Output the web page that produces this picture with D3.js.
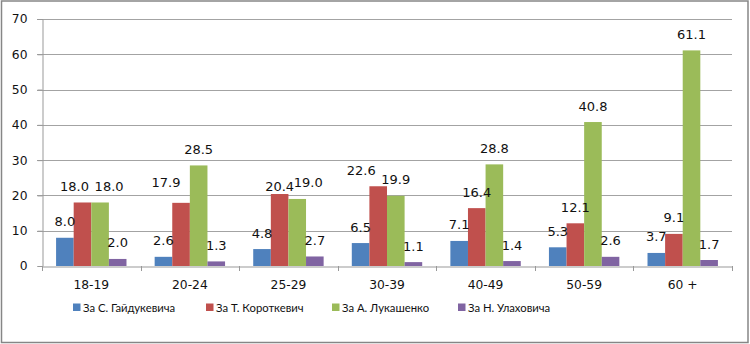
<!DOCTYPE html>
<html><head><meta charset="utf-8">
<script src="https://cdn.jsdelivr.net/npm/d3@7"></script>
<style>body{margin:0;background:#fff}svg{display:block}text{fill:#111}</style>
</head><body><svg id="c" width="750" height="344"></svg>
<script>
const categories = ["18-19","20-24","25-29","30-39","40-49","50-59","60 +"];
const seriesNames = ["За С. Гайдукевича","За Т. Короткевич","За А. Лукашенко","За Н. Улаховича"];
const gaidukevich = [8.0,2.6,4.8,6.5,7.1,5.3,3.7];
const korotkevich = [18.0,17.9,20.4,22.6,16.4,12.1,9.1];
const lukashenko = [18.0,28.5,19.0,19.9,28.8,40.8,61.1];
const ulakhovich = [2.0,1.3,2.7,1.1,1.4,2.6,1.7];
const yTicks = [0,10,20,30,40,50,60,70];

// styling / layout
const colors = ["#4F81BD","#C0504D","#9BBB59","#8064A2"];
const seriesValues = [gaidukevich,korotkevich,lukashenko,ulakhovich];
// manual label nudges seen in the reference: key "category|series" -> [dx, dy]
const labelNudge = {"0|1":[-8,0],"0|2":[9,0],"1|1":[-15,-4],"2|1":[0,8],"2|2":[11,0],"3|1":[-17,0]};
const labelFont = "'DejaVu Sans',sans-serif";

const svg = d3.select("#c");
svg.append("rect").attr("x",1.5).attr("y",1).attr("width",746.5).attr("height",341.5)
  .attr("fill","#fff").attr("stroke","#868686").attr("stroke-width",1.5);

const x0 = d3.scaleBand().domain(categories).range([42,732]).padding(0);
const x1 = d3.scaleBand().domain(d3.range(4)).range([0,x0.bandwidth()]).paddingInner(0).paddingOuter(0.8);
const y = d3.scaleLinear().domain([0,70]).range([266,19]);

// gridlines
svg.append("g").selectAll("line").data(yTicks.slice(1)).join("line")
  .attr("x1",37).attr("x2",732).attr("y1",d=>Math.round(y(d))+0.5).attr("y2",d=>Math.round(y(d))+0.5)
  .attr("stroke","#a3a3a3").attr("stroke-width",1);

// y axis
const ya = svg.append("g").attr("transform","translate(42.5,0)")
  .call(d3.axisLeft(y).tickValues(yTicks).tickSize(5).tickPadding(10).tickFormat(d3.format("d")));
ya.select(".domain").attr("stroke","#999");
ya.selectAll(".tick line").attr("stroke","#999");
ya.selectAll(".tick text").attr("font-size",12.3).attr("font-family",labelFont).attr("fill","#111");

// bars
const groups = svg.append("g").selectAll("g").data(categories).join("g")
  .attr("transform",d=>`translate(${x0(d)},0)`);
const cells = (d,i)=>seriesValues.map((s,k)=>({i,k,v:s[i]}));
groups.selectAll("rect").data(cells).join("rect")
  .attr("x",d=>x1(d.k)).attr("width",x1.bandwidth())
  .attr("y",d=>y(d.v)).attr("height",d=>y(0)-y(d.v)).attr("fill",d=>colors[d.k]);
groups.selectAll("text").data(cells).join("text")
  .attr("x",d=>x1(d.k)+x1.bandwidth()/2+((labelNudge[d.i+"|"+d.k]||[0,0])[0]))
  .attr("y",d=>y(d.v)-11.5+((labelNudge[d.i+"|"+d.k]||[0,0])[1]))
  .attr("text-anchor","middle").attr("font-size",13).attr("font-family",labelFont)
  .text(d=>d.v.toFixed(1));

// x axis
const xa = svg.append("g").attr("transform","translate(0,266.5)")
  .call(d3.axisBottom(x0).tickSize(0).tickPadding(14));
xa.select(".domain").attr("stroke","#999");
xa.selectAll(".tick text").attr("font-size",12.3).attr("font-family",labelFont).attr("fill","#111");
svg.append("g").selectAll("line").data(d3.range(categories.length+1)).join("line")
  .attr("x1",i=>Math.round(42+i*x0.step())+0.5).attr("x2",i=>Math.round(42+i*x0.step())+0.5)
  .attr("y1",266).attr("y2",271).attr("stroke","#999");

// legend
const legX = [73,206,332,458];
const lg = svg.append("g").selectAll("g").data(seriesNames).join("g")
  .attr("transform",(d,i)=>`translate(${legX[i]},303.5)`);
lg.append("rect").attr("width",7.5).attr("height",7.5).attr("fill",(d,i)=>colors[i]);
lg.append("text").attr("x",10).attr("y",8.3).attr("font-size",11.3)
  .attr("font-family","Lato,sans-serif").text(d=>d);
</script></body></html>
